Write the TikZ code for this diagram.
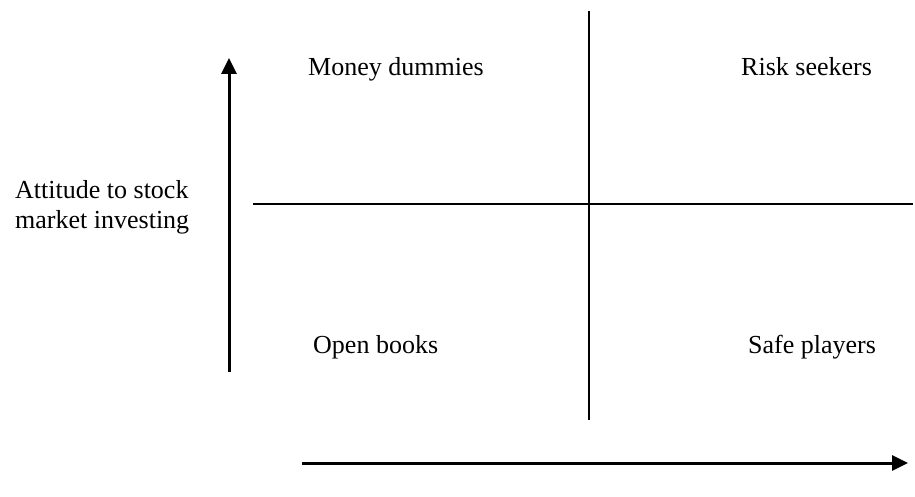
\documentclass[tikz,border=0pt]{standalone}
\usepackage{fontspec}
\setmainfont{Liberation Serif}
\usetikzlibrary{arrows.meta}
\begin{document}
\begin{tikzpicture}[x=1pt,y=-1pt,
  label/.style={anchor=base west,inner sep=0pt,font=\fontsize{26}{30}\selectfont},
  axis/.style={line width=1.5pt},
  dirarrow/.style={line width=3pt,-{Triangle[width=15pt,length=16pt]}}]
\useasboundingbox (0,0) rectangle (915,497);
% quadrant dividers
\coordinate (vtop) at (589,11);
\coordinate (vbot) at (589,420);
\coordinate (hleft) at (253,204);
\coordinate (hright) at (913,204);
\draw[axis] (vtop) -- (vbot);
\draw[axis] (hleft) -- (hright);
% direction arrows
\coordinate (upbot) at (229,372);
\coordinate (uptop) at (229,58);
\coordinate (rleft) at (302,463);
\coordinate (rright) at (908,463);
\draw[dirarrow] (upbot) -- (uptop);
\draw[dirarrow] (rleft) -- (rright);
% quadrant labels
\node[label] (md) at (308,76) {Money dummies};
\node[label] (rs) at (741,76) {Risk seekers};
\node[label] (ob) at (313,353) {Open books};
\node[label] (sp) at (748,353) {Safe players};
% axis label
\node[label,align=left,anchor=north west] (att) at (15,180) {Attitude to stock\\market investing};
\end{tikzpicture}
\end{document}
